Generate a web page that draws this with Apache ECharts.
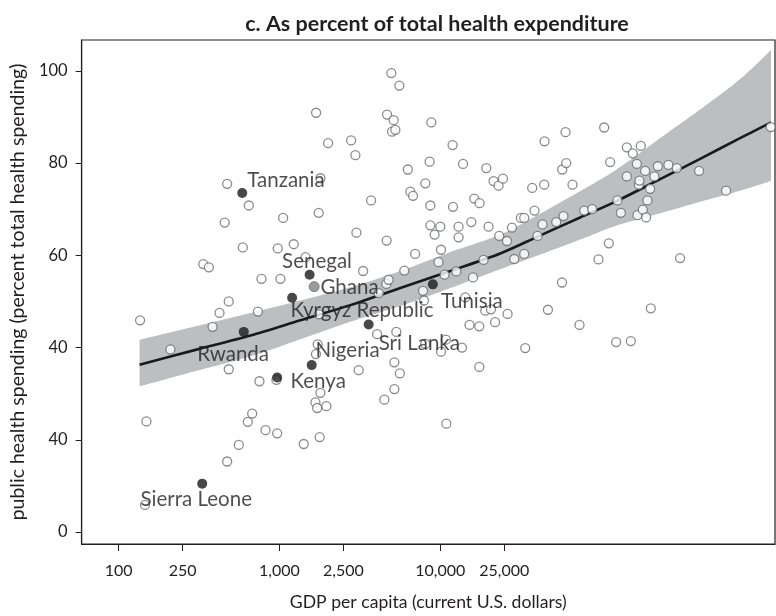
<!DOCTYPE html>
<html>
<head>
<meta charset="utf-8">
<script src="https://cdn.jsdelivr.net/npm/echarts@6/dist/echarts.min.js"></script>
<style>
  html, body { margin: 0; padding: 0; background: #fff; }
  #chart { width: 776px; height: 616px; }
</style>
</head>
<body>
<div id="chart"></div>
<script>
// Countries without a label: GDP per capita (US$) and public share of health spending (%)
const otherGdp = [136,146,149,210,336,364,384,424,457,473,
  473,484,484,559,592,636,645,677,735,751,
  773,819,958,968,976,1014,1054,1227,1416,1451,
  1674,1686,1690,1715,1729,1754,1759,1779,1797,1797,
  1958,2007,2789,2965,3008,3108,3311,3712,4045,4139,
  4489,4619,4639,4665,4774,4962,5012,5128,5180,5180,
  5255,5330,5564,5604,5976,6283,6512,6767,6974,7806,
  7920,8069,8069,8670,8670,8582,8794,9218,10000,9746,
  10100,10100,10630,10820,10900,11920,11990,12570,12990,12990,
  13640,13840,14300,15580,15970,16260,17470,17470,17540,15190,
  18570,19030,19310,19950,20650,21430,21900,23020,23250,24510,
  25960,26180,27890,28820,31710,33240,33240,33730,37270,38520,
  40210,43200,44260,44450,46660,52550,57080,57250,58320,60020,
  60620,66340,73330,78420,87940,96210,104400,111600,113700,123900,
  126200,132600,144400,144400,152900,157300,166600,168000,171500,172900,
  176400,181500,187700,190300,193900,201500,203500,214300,225000,261800,
  295200,309500,406200,597600,1132000];
const otherShare = [45.9,5.9,24.0,39.6,58.1,57.4,44.5,47.5,67.1,75.5,
  15.3,50.0,35.3,18.9,61.7,23.9,70.8,25.7,47.8,32.7,
  54.9,22.1,33.0,21.4,61.5,54.9,68.1,62.4,19.1,59.6,
  28.1,38.6,90.9,26.9,40.7,69.2,47.2,20.6,76.7,30.2,
  27.3,84.3,84.9,81.7,64.9,35.1,56.6,71.9,42.9,51.8,
  28.7,53.8,63.2,90.5,54.7,99.5,86.8,89.3,36.8,31.0,
  87.2,43.4,96.8,34.4,56.7,78.6,73.8,72.9,60.3,52.3,
  50.2,75.6,40.8,66.5,70.8,80.3,88.8,64.5,66.2,58.5,
  61.2,39.1,55.8,41.7,23.5,83.9,70.5,56.5,66.2,63.9,
  40.0,79.8,50.9,67.2,55.2,72.3,44.6,35.8,71.3,44.9,
  59.0,48.0,78.9,66.2,48.3,76.1,45.5,75.1,64.2,76.6,
  63.1,47.3,66.0,59.2,68.1,68.1,60.3,39.9,74.6,69.7,
  64.2,66.7,75.3,84.7,48.2,67.2,54.1,78.6,68.5,86.7,
  80.0,75.3,44.9,69.7,70.0,59.1,87.7,62.6,80.2,41.2,
  71.9,69.2,83.4,77.1,41.4,82.1,79.8,68.7,75.3,76.2,
  83.7,69.9,78.3,68.2,71.9,74.4,48.5,77.1,79.3,79.6,
  78.9,59.4,78.3,74.0,87.8];

// Highlighted countries
const namedCountries = ['Tanzania','Senegal','Ghana','Kyrgyz Republic','Rwanda','Nigeria','Kenya','Sri Lanka','Tunisia','Sierra Leone'];
const namedGdp = [587, 1540, 1643, 1199, 600, 1587, 968, 3587, 8982, 331];
const namedShare = [73.5, 55.8, 53.2, 50.8, 43.4, 36.2, 33.5, 45.0, 53.7, 10.5];

// Fitted curve and its confidence band
const fitGdp  = [135, 301, 661, 1350, 2761, 5644, 11540, 23590, 40620, 74060, 125700, 232500, 412000, 730300, 1137000];
const fitMid  = [36.3, 39.5, 42.6, 45.9, 49.2, 52.9, 56.6, 60.4, 64.1, 68.2, 71.8, 76.5, 80.9, 85.4, 88.8];
const fitLow  = [31.6, 34.9, 38.1, 41.8, 45.6, 49.0, 52.9, 57.0, 60.0, 63.4, 66.5, 69.1, 71.6, 74.0, 76.1];
const fitHigh = [41.7, 44.6, 47.5, 50.2, 53.1, 56.6, 60.7, 64.5, 68.8, 73.9, 78.7, 85.4, 91.6, 98.2, 104.5];

// Axis ticks
const xTickValues = [100, 250, 1000, 2500, 10000, 25000];
const xTickLabels = ['100', '250', '1,000', '2,500', '10,000', '25,000'];
const yTickValues = [0, 20, 40, 60, 80, 100];
const yTickLabels = ['0', '40', '40', '60', '80', '100'];

// Label placement for the highlighted countries (offset from the marker centre)
const labelOffsets = {
  'Tanzania': [5, -13],
  'Senegal': [-27.5, -13],
  'Ghana': [6.3, 1],
  'Kyrgyz Republic': [-1.7, 12.5],
  'Rwanda': [-46.6, 22.5],
  'Nigeria': [3.7, -15],
  'Kenya': [13.3, 4],
  'Sri Lanka': [10, 19],
  'Tunisia': [8.2, 17],
  'Sierra Leone': [-61.7, 16]
};
const greyMarker = { 'Ghana': true };

const FONT = 'Lato';
const INK = '#231f20';
const BAND = '#bcbec0';

function tickLabel(values, labels, v, isLog) {
  for (let i = 0; i < values.length; i++) {
    const a = isLog ? Math.log10(values[i]) : values[i];
    const b = isLog ? Math.log10(v) : v;
    if (Math.abs(a - b) < 1e-6) return labels[i];
  }
  return '';
}

// Catmull-Rom curve through pixel points, used for the band outline
function spline(p, steps) {
  const out = [];
  for (let i = 0; i < p.length - 1; i++) {
    const p0 = p[Math.max(i - 1, 0)], p1 = p[i], p2 = p[i + 1], p3 = p[Math.min(i + 2, p.length - 1)];
    for (let s = 0; s < steps; s++) {
      const t = s / steps, t2 = t * t, t3 = t2 * t;
      const f = k => 0.5 * (2 * p1[k] + (-p0[k] + p2[k]) * t +
        (2 * p0[k] - 5 * p1[k] + 4 * p2[k] - p3[k]) * t2 +
        (-p0[k] + 3 * p1[k] - 3 * p2[k] + p3[k]) * t3);
      out.push([f(0), f(1)]);
    }
  }
  out.push(p[p.length - 1]);
  return out;
}

const pairs = (xs, ys) => xs.map((x, i) => [x, ys[i]]);

const namedData = namedCountries.map((name, i) => ({
  name: name,
  value: [namedGdp[i], namedShare[i]],
  itemStyle: greyMarker[name]
    ? { color: '#808285', borderColor: '#6d6e71', borderWidth: 1 }
    : { color: '#1a1a1a' },
  label: {
    show: true,
    formatter: name,
    position: 'inside',
    align: 'left',
    verticalAlign: 'middle',
    offset: labelOffsets[name],
    fontFamily: FONT,
    fontSize: 20.5,
    color: INK
  }
}));

const chart = echarts.init(document.getElementById('chart'), null, { renderer: 'canvas' });

chart.setOption({
  animation: false,
  backgroundColor: '#ffffff',
  title: {
    text: 'c. As percent of total health expenditure',
    left: 432,
    top: 8,
    textAlign: 'center',
    textStyle: { fontFamily: FONT, fontWeight: 'bold', fontSize: 21.5, color: INK }
  },
  grid: {
    left: 81, right: 1, top: 40, bottom: 68,
    show: true, borderColor: INK, borderWidth: 1.2, backgroundColor: 'transparent'
  },
  xAxis: {
    type: 'log',
    logBase: 10,
    min: 58.9,
    max: 1204000,
    axisLine: { show: true, onZero: false, lineStyle: { color: INK, width: 1.2 } },
    axisTick: { show: true, customValues: xTickValues, length: 7, lineStyle: { color: INK, width: 1 } },
    axisLabel: {
      customValues: xTickValues,
      formatter: v => tickLabel(xTickValues, xTickLabels, v, true),
      margin: 19,
      fontFamily: FONT, fontSize: 16, color: INK
    },
    splitLine: { show: false },
    minorTick: { show: false },
    name: 'GDP per capita (current U.S. dollars)',
    nameLocation: 'middle',
    nameGap: 49,
    nameTextStyle: { fontFamily: FONT, fontSize: 17.6, color: INK }
  },
  yAxis: {
    type: 'value',
    min: -2.58,
    max: 106.67,
    axisLine: { show: true, onZero: false, lineStyle: { color: INK, width: 1.2 } },
    axisTick: { show: true, customValues: yTickValues, length: 6, lineStyle: { color: INK, width: 1 } },
    axisLabel: {
      customValues: yTickValues,
      formatter: v => tickLabel(yTickValues, yTickLabels, v, false),
      margin: 14,
      fontFamily: FONT, fontSize: 16.5, color: INK
    },
    splitLine: { show: false },
    name: 'public health spending (percent total health spending)',
    nameLocation: 'middle',
    nameGap: 52,
    nameRotate: 90,
    nameTextStyle: { fontFamily: FONT, fontSize: 19.5, color: INK }
  },
  series: [
    {
      // confidence band drawn as one filled shape between the bounds
      name: 'band',
      type: 'custom',
      data: fitGdp.map((g, i) => [g, fitLow[i], fitHigh[i]]),
      encode: { x: 0, y: [1, 2] },
      silent: true,
      z: 1,
      renderItem: (params, api) => {
        if (params.dataIndex !== 0) return null;
        const upper = fitGdp.map((g, i) => api.coord([g, fitHigh[i]]));
        const lower = fitGdp.map((g, i) => api.coord([g, fitLow[i]]));
        const outline = spline(upper, 16).concat(spline(lower, 16).reverse());
        return { type: 'polygon', shape: { points: outline }, style: { fill: BAND } };
      }
    },
    {
      name: 'fit',
      type: 'line',
      data: pairs(fitGdp, fitMid),
      smooth: 0.3,
      symbol: 'none',
      lineStyle: { color: '#1a1a1a', width: 2.6 },
      silent: true,
      z: 2
    },
    {
      name: 'countries',
      type: 'scatter',
      data: pairs(otherGdp, otherShare),
      symbol: 'circle',
      symbolSize: 9,
      itemStyle: { color: '#ffffff', borderColor: '#6d6e71', borderWidth: 1.3 },
      z: 3
    },
    {
      name: 'highlighted',
      type: 'scatter',
      data: namedData,
      symbol: 'circle',
      symbolSize: 10,
      z: 4
    }
  ]
});
</script>
</body>
</html>
